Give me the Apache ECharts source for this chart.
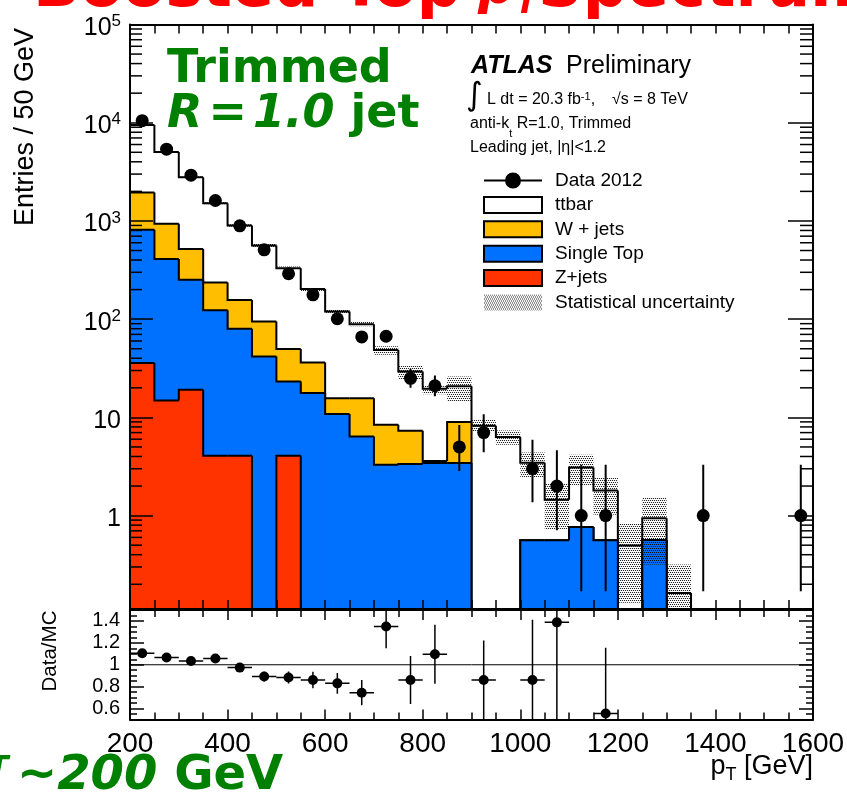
<!DOCTYPE html>
<html>
<head>
<meta charset="utf-8">
<script src="https://cdn.jsdelivr.net/npm/echarts@6.0.0/dist/echarts.min.js"></script>
<style>
html,body{margin:0;padding:0;background:#fff;overflow:hidden}
#chart{width:847px;height:802px}
</style>
</head>
<body>
<div id="chart"></div>
<script>
// ---------------- data ----------------
const binLow = [200,250,300,350,400,450,500,550,600,650,700,750,800,850,900,950,1000,1050,1100,1150,1200,1250,1300,1350,1400,1450,1500,1550];
const binWidth = 50;
const zjets     = [35.8,14.9,19.1,4.08,4.08,0,4.08,0,0,0,0,0,0,0,0,0,0,0,0,0,0,0,0,0,0,0,0,0];
const singleTop = [776,396,233,119,75.8,41.8,19.1,17.7,10.8,6.4,3.3,3.36,3.44,3.44,0,0,0.561,0.561,0.767,0.561,0,0.565,0,0,0,0,0,0];
const wjets     = [1133,523,265,113,77,53,26.4,18.6,4.9,9.3,5.1,3.94,0.16,5.56,0,0,0,0,0,0,0,0,0,0,0,0,0,0];
const ttbar     = [7555,4096,2273,1282,741,466,281,166,104,73.3,40.1,22.1,16.0,11.7,8.24,6.33,2.9,0.89,2.33,1.24,0.495,0.375,0.163,0,0,0,0,0];
const dataCounts  = [10500,5380,2925,1614,892,508,290,177,101,66,67,25,21,5,7,null,3,2,1,1,null,null,null,1,null,null,null,1];
const dataErrDown = [102,73,54,40,30,22.5,17,13.3,10,8.1,8.2,4.97,4.55,2.16,2.58,null,1.63,1.29,0.83,0.83,null,null,null,0.83,null,null,null,0.83];
const dataErrUp   = [102,73,54,40,30,22.5,17,13.3,10.5,9.1,9.2,6.04,5.64,3.38,3.77,null,2.92,2.64,2.30,2.30,null,null,null,2.30,null,null,null,2.30];
const bandLow  = [9405,4965,2740,1483,871,541,318,192,113.5,84.5,43.3,24.5,17.2,14.5,7.2,5.27,2.47,0.72,2.02,1.02,0.13,0.317,0.01,null,null,null,null,null];
const bandHigh = [9595,5095,2840,1553,925,581,344,212,126.5,95,53,33.5,21.2,26.1,9.4,7.37,4.4,2.15,4.17,2.47,0.843,1.55,0.317,null,null,null,null,null];
const ratioX   = [225,275,325,375,425,475,525,575,625,675,725,775,825,925,1025,1075,1175];
const ratioVal = [1.105,1.066,1.035,1.057,0.974,0.892,0.883,0.861,0.83,0.745,1.35,0.861,1.096,0.861,0.861,1.387,0.555];
const ratioErr = [0.012,0.016,0.022,0.028,0.035,0.045,0.055,0.075,0.095,0.115,0.2,0.22,0.27,0.36,0.55,1.0,0.6];
const ratioTicks = [0.6,0.8,1,1.2,1.4];

// ---------------- axis ranges ----------------
const X_MIN = 200, X_MAX = 1600;
const Y_MIN = 0.112, Y_MAX = 1e5;
const R_MIN = 0.5, R_MAX = 1.5;

const COL_W = '#ffbf00', COL_ST = '#0070ff', COL_Z = '#ff3300';
const FONT = 'Liberation Sans';
const DJV = 'DejaVu Sans';
const GREEN = '#008000';

// hatch pattern for stat. uncertainty
function makeHatch() {
  const c = document.createElement('canvas');
  c.width = 4; c.height = 4;
  const g = c.getContext('2d');
  g.fillStyle = 'rgba(0,0,0,0.10)';
  g.fillRect(0, 0, 4, 4);
  g.clearRect(0, 1, 4, 1);
  g.clearRect(0, 3, 4, 1);
  g.fillStyle = 'rgba(0,0,0,0.85)';
  [[0,0],[2,0],[1,2],[3,2]].forEach(p => g.fillRect(p[0], p[1], 1, 1));
  return c;
}
const hatch = { image: makeHatch(), repeat: 'repeat' };

// stacked cumulative layers
function cum(arrs) { return binLow.map((_, i) => arrs.reduce((s, a) => s + a[i], 0)); }
const cumZ   = cum([zjets]);
const cumST  = cum([zjets, singleTop]);
const cumW   = cum([zjets, singleTop, wjets]);
const cumTot = cum([zjets, singleTop, wjets, ttbar]);
function layerData(c) { return binLow.map((x, i) => [x, x + binWidth, c[i], i ? c[i - 1] : 0]); }

function yPix(api, v) { return api.coord([X_MIN, Math.max(v, Y_MIN)])[1]; }

function layerRender(color) {
  return function (params, api) {
    const xa = api.value(0), xb = api.value(1), top = api.value(2), prev = api.value(3);
    const x0 = api.coord([xa, Y_MIN])[0];
    const x1 = api.coord([xb, Y_MIN])[0];
    const yB = yPix(api, Y_MIN);
    const yT = yPix(api, top);
    const yP = yPix(api, prev);
    const last = params.dataIndex === binLow.length - 1;
    const children = [];
    if (yB - yT > 0.01) {
      children.push({ type: 'rect', z2: 0,
        shape: { x: x0, y: yT, width: (x1 - x0) + (last ? 0 : 0.8), height: yB - yT },
        style: { fill: color } });
    }
    const pts = [[x0, yP], [x0, yT], [x1, yT]];
    if (last) pts.push([x1, yB]);
    children.push({ type: 'polyline', z2: 10, shape: { points: pts },
      style: { stroke: '#000', lineWidth: 2, fill: null, lineJoin: 'miter' } });
    return { type: 'group', children };
  };
}

const bandData = [];
binLow.forEach((x, i) => { if (bandLow[i] != null) bandData.push([x, x + binWidth, bandLow[i], bandHigh[i]]); });
const dataPts = [];
binLow.forEach((x, i) => { if (dataCounts[i] != null) dataPts.push([x + binWidth / 2, dataCounts[i], dataErrDown[i], dataErrUp[i]]); });
const ratioPts = ratioX.map((x, i) => [x, ratioVal[i], ratioErr[i]]);

// minor ticks of the log axis (2..9 x 10^n)
const minorLog = [];
for (let e = -1; e <= 4; e++) for (let k = 2; k <= 9; k++) {
  const v = k * Math.pow(10, e);
  if (v > Y_MIN && v < Y_MAX) minorLog.push([X_MIN, v]);
}

function logLabel(v) {
  const l = Math.log10(v);
  const e = Math.round(l);
  if (Math.abs(l - e) > 0.02 || v < 0.5) return '';
  if (e === 0) return '{b|1}';
  if (e === 1) return '{b|10}';
  return '{b|10}{s|' + e + '}';
}
function ratioLabel(v) {
  const hit = ratioTicks.some(t => Math.abs(t - v) < 1e-6);
  if (!hit) return '';
  return Math.abs(v - 1) < 1e-6 ? '1' : v.toFixed(1);
}

const blk = { color: '#000', width: 1.5 };
function xAxisCfg(grid, pos, showLabel, majLen, minLen) {
  return {
    gridIndex: grid, type: 'value', min: X_MIN, max: X_MAX, interval: 200, position: pos, z: 10,
    axisLine: { show: true, onZero: false, lineStyle: { color: '#000', width: 2 } },
    axisTick: { show: true, inside: true, length: majLen, lineStyle: blk },
    minorTick: { show: true, splitNumber: 4, length: minLen, lineStyle: blk },
    splitLine: { show: false }, minorSplitLine: { show: false },
    axisLabel: { show: showLabel, margin: 11, fontFamily: FONT, fontSize: 28, color: '#000',
      showMinLabel: true, showMaxLabel: true, formatter: v => String(Math.round(v)) }
  };
}
function logAxisCfg(pos, showLabel, len) {
  return {
    gridIndex: 0, type: 'log', logBase: 10, min: Y_MIN, max: Y_MAX, position: pos, z: 10,
    axisLine: { show: true, onZero: false, lineStyle: { color: '#000', width: 2 } },
    axisTick: { show: true, inside: true, length: len, lineStyle: blk },
    minorTick: { show: false }, splitLine: { show: false },
    axisLabel: { show: showLabel, margin: 9, padding: [7, 0, 0, 0], formatter: logLabel,
      rich: {
        b: { fontFamily: FONT, fontSize: 25, color: '#000', lineHeight: 30 },
        s: { fontFamily: FONT, fontSize: 17, color: '#000', lineHeight: 17, verticalAlign: 'top' }
      } }
  };
}
function ratioAxisCfg(pos, major, showLabel) {
  const a = {
    gridIndex: 1, type: 'value', min: R_MIN, max: R_MAX, position: pos, z: 10,
    axisLine: { show: major, onZero: false, lineStyle: { color: '#000', width: 2 } },
    axisTick: { show: true, inside: true, length: major ? 14 : 7, lineStyle: blk },
    splitLine: { show: false },
    axisLabel: { show: showLabel, margin: 10, fontFamily: FONT, fontSize: 20, color: '#000', formatter: ratioLabel }
  };
  if (major) {
    a.axisTick.customValues = ratioTicks;
    a.axisLabel.customValues = ratioTicks;
  } else {
    a.interval = 0.05;
  }
  return a;
}

const chart = echarts.init(document.getElementById('chart'), null, { renderer: 'canvas' });

const option = {
  animation: false,
  backgroundColor: '#fff',
  grid: [
    { left: 130, top: 24.5, width: 683, height: 584.5, outerBoundsMode: 'none' },
    { left: 130, top: 610, width: 683, height: 109.5, outerBoundsMode: 'none' }
  ],
  xAxis: [
    xAxisCfg(0, 'bottom', false, 9, 9),
    xAxisCfg(0, 'top', false, 9, 9),
    xAxisCfg(1, 'bottom', true, 10, 7),
    xAxisCfg(1, 'top', false, 10, 7)
  ],
  yAxis: [
    logAxisCfg('left', true, 23),
    logAxisCfg('right', false, 25),
    ratioAxisCfg('left', true, true),
    ratioAxisCfg('left', false, false),
    ratioAxisCfg('right', true, false),
    ratioAxisCfg('right', false, false)
  ],
  legend: {
    left: 483, top: 171, orient: 'vertical', padding: 0,
    itemWidth: 58, itemHeight: 16, itemGap: 5.4, selectedMode: false,
    textStyle: { fontFamily: FONT, fontSize: 19, color: '#000', padding: [0, 0, 0, 8] },
    data: [
      { name: 'Data 2012', icon: 'path://M0,7L58,7L58,9L0,9Z M37,8A8,8,0,1,1,21,8A8,8,0,1,1,37,8Z',
        itemStyle: { color: '#000', borderWidth: 0 } },
      { name: 'ttbar', icon: 'rect', itemStyle: { color: '#fff', borderColor: '#000', borderWidth: 2 } },
      { name: 'W + jets', icon: 'rect', itemStyle: { color: COL_W, borderColor: '#000', borderWidth: 2 } },
      { name: 'Single Top', icon: 'rect', itemStyle: { color: COL_ST, borderColor: '#000', borderWidth: 2 } },
      { name: 'Z+jets', icon: 'rect', itemStyle: { color: COL_Z, borderColor: '#000', borderWidth: 2 } },
      { name: 'Statistical uncertainty', icon: 'rect', itemStyle: { color: hatch, borderWidth: 0 } }
    ]
  },
  series: [
    { name: 'ttbar', type: 'custom', xAxisIndex: 0, yAxisIndex: 0, z: 2, clip: true, silent: true,
      itemStyle: { color: '#fff' }, encode: { x: [0, 1], y: [2] },
      renderItem: layerRender('#ffffff'), data: layerData(cumTot) },
    { name: 'W + jets', type: 'custom', xAxisIndex: 0, yAxisIndex: 0, z: 3, clip: true, silent: true,
      itemStyle: { color: COL_W }, encode: { x: [0, 1], y: [2] },
      renderItem: layerRender(COL_W), data: layerData(cumW) },
    { name: 'Single Top', type: 'custom', xAxisIndex: 0, yAxisIndex: 0, z: 4, clip: true, silent: true,
      itemStyle: { color: COL_ST }, encode: { x: [0, 1], y: [2] },
      renderItem: layerRender(COL_ST), data: layerData(cumST) },
    { name: 'Z+jets', type: 'custom', xAxisIndex: 0, yAxisIndex: 0, z: 5, clip: true, silent: true,
      itemStyle: { color: COL_Z }, encode: { x: [0, 1], y: [2] },
      renderItem: layerRender(COL_Z), data: layerData(cumZ) },
    { name: 'Statistical uncertainty', type: 'custom', xAxisIndex: 0, yAxisIndex: 0, z: 6, clip: true, silent: true,
      itemStyle: { color: '#aaa' }, encode: { x: [0, 1], y: [2, 3] },
      renderItem: function (params, api) {
        const x0 = api.coord([api.value(0), Y_MIN])[0];
        const x1 = api.coord([api.value(1), Y_MIN])[0];
        const yLo = yPix(api, api.value(2));
        const yHi = yPix(api, api.value(3));
        return { type: 'rect', shape: { x: x0, y: yHi, width: x1 - x0, height: yLo - yHi }, style: { fill: hatch } };
      },
      data: bandData },
    { name: 'Data 2012', type: 'custom', xAxisIndex: 0, yAxisIndex: 0, z: 7, clip: true, silent: true,
      itemStyle: { color: '#000' }, encode: { x: [0], y: [1] },
      renderItem: function (params, api) {
        const xc = api.value(0), n = api.value(1), dn = api.value(2), up = api.value(3);
        const x = api.coord([xc, Y_MIN])[0];
        const y = yPix(api, n), yl = yPix(api, n - dn), yu = yPix(api, n + up);
        return { type: 'group', children: [
          { type: 'line', shape: { x1: x, y1: yu, x2: x, y2: yl }, style: { stroke: '#000', lineWidth: 2 } },
          { type: 'circle', shape: { cx: x, cy: y, r: 6.5 }, style: { fill: '#000' } }
        ] };
      },
      data: dataPts },
    { type: 'custom', xAxisIndex: 0, yAxisIndex: 0, z: 9, silent: true,
      encode: { x: [0], y: [1] },
      renderItem: function (params, api) {
        const p0 = api.coord([X_MIN, api.value(1)]);
        const p1 = api.coord([X_MAX, api.value(1)]);
        return { type: 'group', children: [
          { type: 'line', shape: { x1: p0[0], y1: p0[1], x2: p0[0] + 12, y2: p0[1] }, style: { stroke: '#000', lineWidth: 1.5 } },
          { type: 'line', shape: { x1: p1[0] - 13, y1: p1[1], x2: p1[0], y2: p1[1] }, style: { stroke: '#000', lineWidth: 1.5 } }
        ] };
      },
      data: minorLog },
    { type: 'line', xAxisIndex: 2, yAxisIndex: 2, z: 3, silent: true, symbol: 'none',
      lineStyle: { color: '#000', width: 1 }, data: [[X_MIN, 1], [X_MAX, 1]] },
    { name: 'Data/MC', type: 'custom', xAxisIndex: 2, yAxisIndex: 2, z: 7, clip: true, silent: true,
      encode: { x: [0], y: [1] },
      renderItem: function (params, api) {
        const xc = api.value(0), v = api.value(1), e = api.value(2);
        const cl = t => Math.min(R_MAX, Math.max(R_MIN, t));
        const p = api.coord([xc, v]);
        const pl = api.coord([xc - binWidth / 2, v]);
        const pr = api.coord([xc + binWidth / 2, v]);
        const yu = api.coord([xc, cl(v + e)])[1];
        const yd = api.coord([xc, cl(v - e)])[1];
        return { type: 'group', children: [
          { type: 'line', shape: { x1: pl[0], y1: p[1], x2: pr[0], y2: p[1] }, style: { stroke: '#000', lineWidth: 1.5 } },
          { type: 'line', shape: { x1: p[0], y1: yu, x2: p[0], y2: yd }, style: { stroke: '#000', lineWidth: 1.5 } },
          { type: 'circle', shape: { cx: p[0], cy: p[1], r: 5 }, style: { fill: '#000' } }
        ] };
      },
      data: ratioPts }
  ],
  graphic: [
    // slide overlay texts
    { type: 'text', x: 33, y: -10.5, z: 100, silent: true,
      style: { text: 'Boosted Top', fill: '#ff0000', fontFamily: DJV, fontWeight: 'bold', fontSize: 62, textVerticalAlign: 'middle' } },
    { type: 'text', x: 478, y: -10.5, z: 100, silent: true,
      style: { text: '{p|p}{t|T}', textVerticalAlign: 'middle',
        rich: { p: { fill: '#ff0000', fontFamily: DJV, fontWeight: 'bold', fontStyle: 'italic', fontSize: 52, lineHeight: 62 },
                t: { fill: '#ff0000', fontFamily: DJV, fontWeight: 'bold', fontStyle: 'italic', fontSize: 32, lineHeight: 50, verticalAlign: 'bottom' } } } },
    { type: 'text', x: 538, y: -10.5, z: 100, silent: true,
      style: { text: 'Spectrum', fill: '#ff0000', fontFamily: DJV, fontWeight: 'bold', fontSize: 62, textVerticalAlign: 'middle' } },
    { type: 'text', x: 167, y: 70, z: 100, silent: true,
      style: { text: 'Trimmed', fill: GREEN, fontFamily: DJV, fontWeight: 'bold', fontSize: 46, textVerticalAlign: 'middle' } },
    { type: 'text', x: 167, y: 115, z: 100, silent: true,
      style: { text: '{i|R}{e|=}{i|1.0}{n| jet}', textVerticalAlign: 'middle',
        rich: { i: { fill: GREEN, fontFamily: DJV, fontWeight: 'bold', fontStyle: 'italic', fontSize: 46 },
                e: { fill: GREEN, fontFamily: DJV, fontWeight: 'bold', fontSize: 46, padding: [0, 6, 0, 6] },
                n: { fill: GREEN, fontFamily: DJV, fontWeight: 'bold', fontSize: 46 } } } },
    { type: 'text', x: -12, y: 769, z: 100, silent: true,
      style: { text: 'T', fill: GREEN, fontFamily: DJV, fontWeight: 'bold', fontStyle: 'italic', fontSize: 30, textVerticalAlign: 'middle' } },
    { type: 'text', x: 17, y: 777, z: 100, silent: true,
      style: { text: '{n|~}{i|200}{n| GeV}', textVerticalAlign: 'middle',
        rich: { i: { fill: GREEN, fontFamily: DJV, fontWeight: 'bold', fontStyle: 'italic', fontSize: 48 },
                n: { fill: GREEN, fontFamily: DJV, fontWeight: 'bold', fontSize: 48 } } } },
    // ATLAS labels
    { type: 'text', x: 471, y: 66, z: 100, silent: true,
      style: { text: 'ATLAS', fill: '#000', fontFamily: FONT, fontWeight: 'bold', fontStyle: 'italic', fontSize: 25, textVerticalAlign: 'middle' } },
    { type: 'text', x: 566, y: 66, z: 100, silent: true,
      style: { text: 'Preliminary', fill: '#000', fontFamily: FONT, fontSize: 25, textVerticalAlign: 'middle' } },
    { type: 'text', x: 466, y: 97, z: 100, silent: true,
      style: { text: '\u222B', fill: '#000', fontFamily: DJV, fontSize: 32, textVerticalAlign: 'middle' } },
    { type: 'text', x: 487, y: 100, z: 100, silent: true,
      style: { text: '{n|L dt = 20.3 fb}{s|-1}{n|,}', textVerticalAlign: 'middle',
        rich: { n: { fill: '#000', fontFamily: FONT, fontSize: 16, lineHeight: 18 },
                s: { fill: '#000', fontFamily: FONT, fontSize: 11, lineHeight: 11, verticalAlign: 'top' } } } },
    { type: 'text', x: 612, y: 100, z: 100, silent: true,
      style: { text: '\u221As = 8 TeV', fill: '#000', fontFamily: FONT, fontSize: 16, textVerticalAlign: 'middle' } },
    { type: 'text', x: 470, y: 124, z: 100, silent: true,
      style: { text: '{n|anti-k}{s|t}{n| R=1.0, Trimmed}', textVerticalAlign: 'middle',
        rich: { n: { fill: '#000', fontFamily: FONT, fontSize: 16, lineHeight: 18 },
                s: { fill: '#000', fontFamily: FONT, fontSize: 11, lineHeight: 11, verticalAlign: 'bottom', padding: [0, 0, -6, 0] } } } },
    { type: 'text', x: 470, y: 148, z: 100, silent: true,
      style: { text: 'Leading jet, |\u03B7|<1.2', fill: '#000', fontFamily: FONT, fontSize: 16, textVerticalAlign: 'middle' } },
    // axis titles
    { type: 'text', x: 26, y: 127, rotation: Math.PI / 2, z: 100, silent: true,
      style: { text: 'Entries / 50 GeV', fill: '#000', fontFamily: FONT, fontSize: 27, textAlign: 'center', textVerticalAlign: 'middle' } },
    { type: 'text', x: 50, y: 651, rotation: Math.PI / 2, z: 100, silent: true,
      style: { text: 'Data/MC', fill: '#000', fontFamily: FONT, fontSize: 20.5, textAlign: 'center', textVerticalAlign: 'middle' } },
    { type: 'text', x: 813, y: 767, z: 100, silent: true,
      style: { text: '{n|p}{s|T}{n| [GeV]}', textAlign: 'right', textVerticalAlign: 'middle',
        rich: { n: { fill: '#000', fontFamily: FONT, fontSize: 27, lineHeight: 34 },
                s: { fill: '#000', fontFamily: FONT, fontSize: 18, lineHeight: 18, verticalAlign: 'bottom' } } } }
  ]
};

chart.setOption(option);
</script>
</body>
</html>
